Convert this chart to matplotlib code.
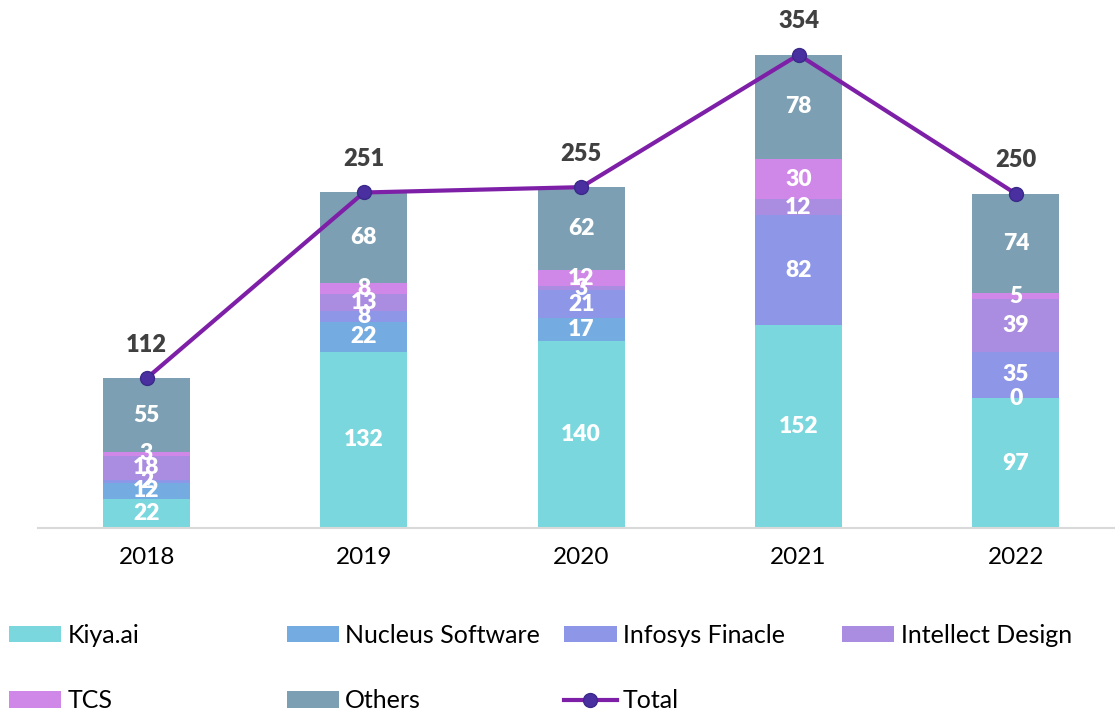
import numpy as np
import matplotlib.pyplot as plt
from matplotlib.patches import Patch
from matplotlib.lines import Line2D

plt.rcParams['font.family'] = ['Lato', 'DejaVu Sans']

years = ['2018', '2019', '2020', '2021', '2022']
kiya = [22, 132, 140, 152, 97]
nucleus = [12, 22, 17, np.nan, 0]
infosys = [2, 8, 21, 82, 35]
intellect = [18, 13, 3, 12, 39]
tcs = [3, 8, 12, 30, 5]
others = [55, 68, 62, 78, 74]
totals = [112, 251, 255, 354, 250]

series = [
    ('Kiya.ai', kiya, '#79D7DD'),
    ('Nucleus Software', nucleus, '#74ACE2'),
    ('Infosys Finacle', infosys, '#8E96E8'),
    ('Intellect Design', intellect, '#AA8CE0'),
    ('TCS', tcs, '#CF87E8'),
    ('Others', others, '#7C9FB3'),
]
line_c = '#7E1FA8'
mark_c = '#4A2FA0'

fig = plt.figure(figsize=(11.15, 7.18), dpi=100)
ax = fig.add_axes([0.034, 0.2646, 0.966, 0.7354])

x = np.arange(len(years))
bottom = np.zeros(len(years))
handles = []
for name, vals, col in series:
    v = np.array(vals, dtype=float)
    vv = np.nan_to_num(v)
    ax.bar(x, vv, 0.4, bottom=bottom, color=col, edgecolor='none')
    for xi, b, val in zip(x, bottom, v):
        if np.isnan(val):
            continue
        ax.text(xi, b + val / 2, f'{int(val)}', ha='center', va='center',
                color='white', fontsize=16.5, fontweight='heavy')
    bottom += vv
    handles.append(Patch(facecolor=col, label=name))

ax.plot(x, totals, color=line_c, lw=3, marker='o', ms=10,
        mfc=mark_c, mec='#3A2A8A', zorder=5)
for xi, t in zip(x, totals):
    ax.annotate(f'{t}', (xi, t), xytext=(0, 24), textcoords='offset points',
                ha='center', va='center', fontsize=17, fontweight='heavy',
                color='#404040', annotation_clip=False)
handles.append(Line2D([0], [0], color=line_c, lw=3, marker='o', ms=10,
                      mfc=mark_c, mec='#3A2A8A', label='Total'))

ax.set_xlim(-0.5, 4.456)
ax.set_ylim(0, 395)
ax.set_xticks(x)
ax.set_xticklabels(years, fontsize=17.5)
ax.tick_params(axis='x', length=0, pad=14)
ax.set_yticks([])
for s in ['top', 'right', 'left']:
    ax.spines[s].set_visible(False)
ax.spines['bottom'].set_color('#D9D9D9')
ax.spines['bottom'].set_linewidth(1.5)

# legend laid out as a 4-column grid, row by row
cols = [0.008, 0.257, 0.506, 0.755]
rows = [0.115, 0.024]
for i, h in enumerate(handles):
    r, c = divmod(i, 4)
    fig.legend(handles=[h], loc='center left',
               bbox_to_anchor=(cols[c], rows[r]), frameon=False,
               fontsize=18, handlelength=2.1, handleheight=0.62,
               handletextpad=0.25, borderpad=0, borderaxespad=0)

fig.savefig('out.png', dpi=100)
